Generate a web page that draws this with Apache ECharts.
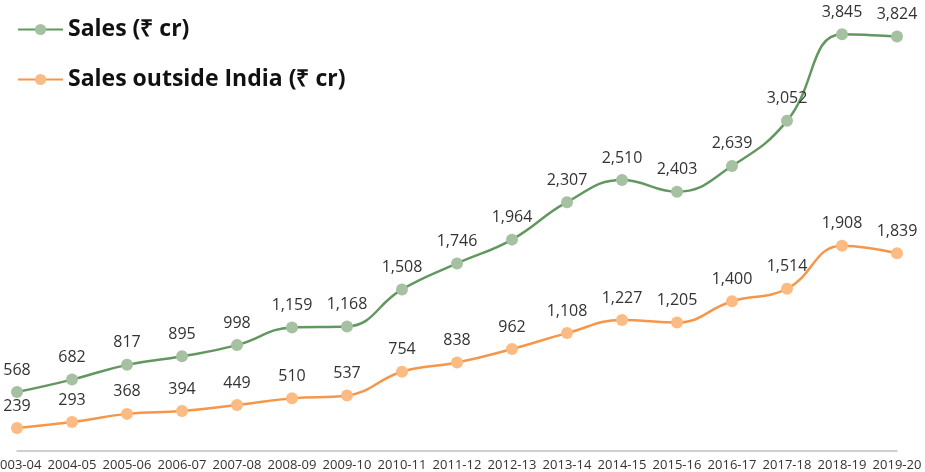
<!DOCTYPE html>
<html>
<head>
<meta charset="utf-8">
<script src="https://cdn.jsdelivr.net/npm/echarts@6/dist/echarts.min.js"></script>
<style>
  html, body { margin: 0; padding: 0; background: #fff; }
  #chart { width: 925px; height: 472px; }
</style>
</head>
<body>
<div id="chart"></div>
<script>
// years on x axis
var years = ['2003-04', '2004-05', '2005-06', '2006-07', '2007-08', '2008-09', '2009-10', '2010-11',
  '2011-12', '2012-13', '2013-14', '2014-15', '2015-16', '2016-17', '2017-18', '2018-19', '2019-20'];
var sales = [568, 682, 817, 895, 998, 1159, 1168, 1508, 1746, 1964, 2307, 2510, 2403, 2639, 3052, 3845, 3824];
var salesOutside = [239, 293, 368, 394, 449, 510, 537, 754, 838, 962, 1108, 1227, 1205, 1400, 1514, 1908, 1839];

var myChart = echarts.init(document.getElementById('chart'));

function fmt(p) {
  return p.value.toLocaleString('en-US');
}

myChart.setOption({
  animation: false,
  legend: {
    orient: 'vertical',
    left: 12,
    top: 13,
    itemGap: 27,
    itemWidth: 45,
    itemHeight: 14,
    textStyle: { fontFamily: 'Open Sans', fontWeight: 'bold', fontSize: 23, color: '#111' },
    data: ['Sales (₹ cr)', 'Sales outside India (₹ cr)']
  },
  grid: { left: 17, right: 28, top: 11, bottom: 21, containLabel: false, outerBoundsMode: 'none' },
  xAxis: {
    type: 'category',
    boundaryGap: false,
    data: years,
    axisLine: { lineStyle: { color: '#c0c0c0', width: 1.5 } },
    axisTick: { show: false },
    axisLabel: { interval: 0, margin: 8, fontSize: 13, color: '#333', fontFamily: 'Open Sans', hideOverlap: false }
  },
  yAxis: {
    type: 'value',
    min: 28,
    max: 4058,
    show: false,
    splitLine: { show: false }
  },
  series: [
    {
      name: 'Sales (₹ cr)',
      type: 'line',
      smooth: 0.45,
      data: sales,
      symbol: 'circle',
      symbolSize: 12,
      lineStyle: { color: '#62975f', width: 2.5 },
      itemStyle: { color: '#a5c1a1' },
      label: { show: true, position: 'top', distance: 8, formatter: fmt, fontSize: 16, color: '#333', fontFamily: 'Open Sans' }
    },
    {
      name: 'Sales outside India (₹ cr)',
      type: 'line',
      smooth: 0.45,
      data: salesOutside,
      symbol: 'circle',
      symbolSize: 12,
      lineStyle: { color: '#f6964a', width: 2.5 },
      itemStyle: { color: '#fbbb82' },
      label: { show: true, position: 'top', distance: 8, formatter: fmt, fontSize: 16, color: '#333', fontFamily: 'Open Sans' }
    }
  ]
});
</script>
</body>
</html>
